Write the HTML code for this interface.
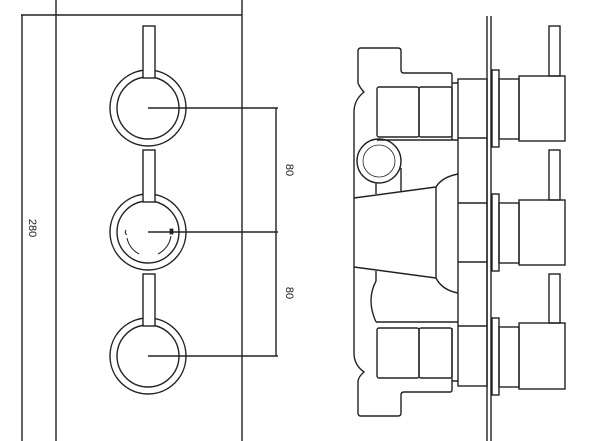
<!DOCTYPE html>
<html><head><style>html,body{margin:0;padding:0;background:#fff;width:600px;height:441px;overflow:hidden}</style></head>
<body>
<svg width="600" height="441" viewBox="0 0 600 441" xmlns="http://www.w3.org/2000/svg" fill="none" stroke="#222" stroke-width="1.4">
<!-- left view -->
<line x1="56" y1="0" x2="56" y2="441"/>
<line x1="242" y1="0" x2="242" y2="441"/>
<line x1="21" y1="15" x2="242" y2="15"/>
<line x1="22" y1="15" x2="22" y2="441"/>
<g>
<circle cx="148" cy="108" r="38"/><circle cx="148" cy="108" r="31"/>
<rect x="143" y="26" width="12" height="52" fill="#fff"/>
<circle cx="148" cy="232" r="38"/><circle cx="148" cy="232" r="31"/>
<rect x="143" y="150" width="12" height="52" fill="#fff"/>
<circle cx="148" cy="356" r="38"/><circle cx="148" cy="356" r="31"/>
<rect x="143" y="274" width="12" height="52" fill="#fff"/>
<path d="M127 238 A24 24 0 0 0 139 254" stroke-width="1"/>
<path d="M171 236 A24 24 0 0 1 158 254" stroke-width="1"/>
<path d="M126 230 q-2 3 1 5" stroke-width="1"/>
<rect x="170" y="229" width="3" height="5" fill="#222" stroke-width="0.8"/>
<line x1="148" y1="108" x2="278" y2="108"/>
<line x1="148" y1="232" x2="278" y2="232"/>
<line x1="148" y1="356" x2="278" y2="356"/>
<line x1="276" y1="108" x2="276" y2="356"/>
</g>
<g font-family="Liberation Sans, sans-serif" font-size="11" fill="#222" stroke="none">
<text transform="translate(286,170) rotate(90)" text-anchor="middle">80</text>
<text transform="translate(286,293) rotate(90)" text-anchor="middle">80</text>
<text transform="translate(29,228) rotate(90)" text-anchor="middle">280</text>
</g>
<!-- right view -->
<line x1="487" y1="16" x2="487" y2="441"/><line x1="491" y1="16" x2="491" y2="441"/>
<g>
<rect x="492" y="70" width="7" height="77"/><rect x="499" y="79" width="20" height="60"/><rect x="519" y="76" width="46" height="65"/><rect x="549" y="26" width="11" height="50"/>
<rect x="492" y="194" width="7" height="77"/><rect x="499" y="203" width="20" height="60"/><rect x="519" y="200" width="46" height="65"/><rect x="549" y="150" width="11" height="50"/>
<rect x="492" y="318" width="7" height="77"/><rect x="499" y="327" width="20" height="60"/><rect x="519" y="323" width="46" height="66"/><rect x="549" y="274" width="11" height="49"/>
</g>
<rect x="458" y="79" width="29" height="307"/>
<line x1="458" y1="138" x2="487" y2="138"/>
<line x1="458" y1="203" x2="487" y2="203"/>
<line x1="458" y1="262" x2="487" y2="262"/>
<line x1="458" y1="326" x2="487" y2="326"/>
<path d="M452 83 H458 M452 381 H458"/>
<path d="M452 140 V75 Q452 73 450 73 H404 Q401 73 401 70 V51 Q401 48 398 48 H361 Q358 48 358 51 V83 Q360 88 364 92 Q354 100 354 112 V353 Q354 365 364 372 Q358 377 358 382 V413 Q358 416 361 416 H398 Q401 416 401 413 V395 Q401 392 404 392 H450 Q452 392 452 390 V328"/>
<rect x="377" y="87" width="42" height="50" rx="2"/><rect x="419" y="87" width="33" height="50" rx="2"/>
<rect x="377" y="328" width="42" height="50" rx="2"/><rect x="419" y="328" width="33" height="50" rx="2"/>
<line x1="377" y1="140" x2="458" y2="140"/>
<line x1="376" y1="322" x2="458" y2="322"/>
<circle cx="379" cy="161" r="22"/><circle cx="379" cy="161" r="16" stroke-width="0.8"/>
<path d="M376 183 V194 M401 168 V191"/>
<path d="M354 198 L436 187 M354 267 L436 278 M436 187 V278"/>
<path d="M436 187 Q442 177 458 174 M436 278 Q442 290 458 293"/>
<path d="M376 271 V281 Q366 300 376 322"/>
</svg>
</body></html>
